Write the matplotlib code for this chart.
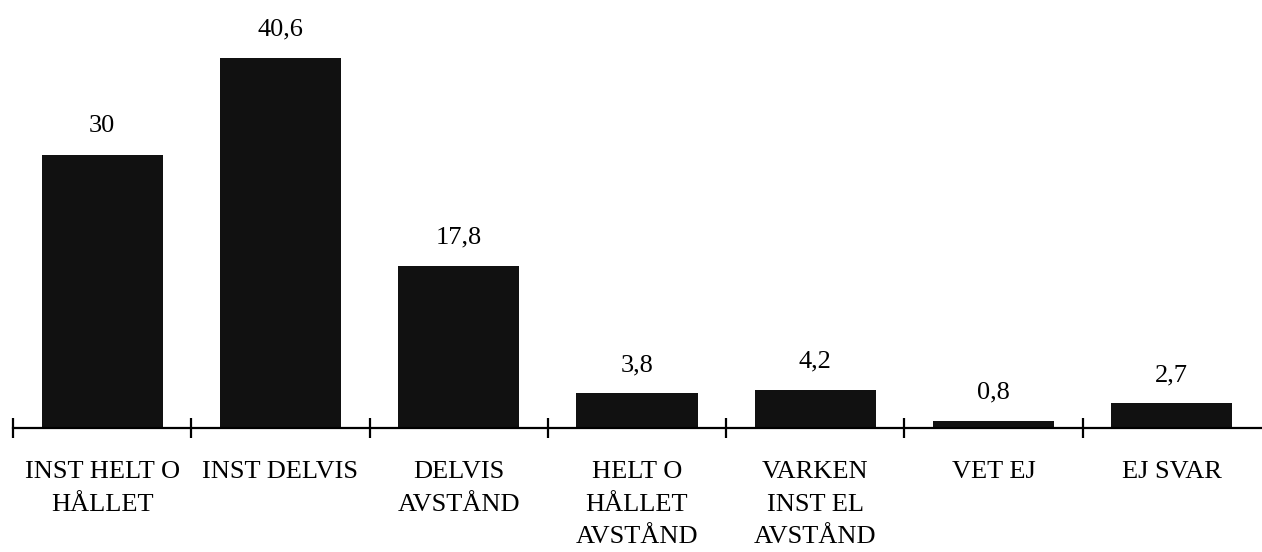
import matplotlib
matplotlib.use("Agg")
import matplotlib.pyplot as plt

categories = [
    "INST HELT O\nHÅLLET",
    "INST DELVIS",
    "DELVIS\nAVSTÅND",
    "HELT O\nHÅLLET\nAVSTÅND",
    "VARKEN\nINST EL\nAVSTÅND",
    "VET EJ",
    "EJ SVAR",
]
values = [30, 40.6, 17.8, 3.8, 4.2, 0.8, 2.7]

plt.rcParams["font.family"] = ["Liberation Serif", "DejaVu Serif"]

fig = plt.figure(figsize=(12.62, 5.52), dpi=100)
ax = fig.add_axes([13 / 1262, 124 / 552, 1248 / 1262, 410 / 552])

x = list(range(len(categories)))
ax.bar(x, values, width=0.68, color="#111111", edgecolor="none")

def fmt(v):
    return f"{v:g}".replace(".", ",")

for xi, v in zip(x, values):
    ax.annotate(fmt(v), xy=(xi, v), xytext=(0, 16), textcoords="offset points",
                ha="center", va="baseline", fontsize=19)

ax.set_xlim(-0.5, len(categories) - 0.5)
ax.set_ylim(0, 45)

for side in ("left", "right", "top"):
    ax.spines[side].set_visible(False)
ax.spines["bottom"].set_linewidth(1.6)
ax.spines["bottom"].set_color("black")
ax.set_yticks([])

# boundary ticks crossing the axis line
ax.set_xticks([i - 0.5 for i in range(len(categories))])
ax.set_xticklabels([])
ax.tick_params(axis="x", which="major", direction="inout", length=14, width=1.6, color="black")

# category labels centred under each bar
ax.set_xticks(x, minor=True)
ax.set_xticklabels(categories, minor=True, fontsize=19, linespacing=1.6,
                   multialignment="center")
ax.tick_params(axis="x", which="minor", length=0, pad=24)

fig.savefig("out.png", dpi=100)
